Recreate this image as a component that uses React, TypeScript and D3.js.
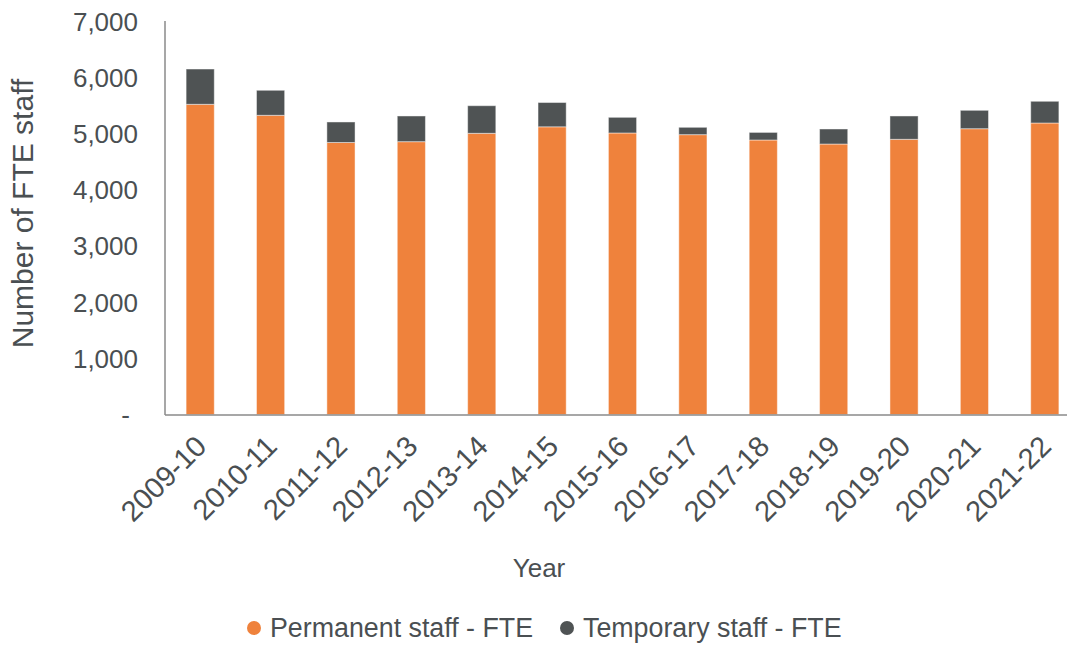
import React from "react";
import * as d3 from "d3";

const years = ["2009-10","2010-11","2011-12","2012-13","2013-14","2014-15","2015-16","2016-17","2017-18","2018-19","2019-20","2020-21","2021-22"];
const permanent = [5531, 5335, 4850, 4865, 5014, 5130, 5020, 4990, 4895, 4823, 4907, 5096, 5198];
const temporary = [629, 446, 366, 458, 492, 433, 279, 131, 135, 268, 416, 328, 387];
const yTicks = [0, 1000, 2000, 3000, 4000, 5000, 6000, 7000];
const seriesNames = ["Permanent staff - FTE", "Temporary staff - FTE"];

const W = 1067, H = 647;
const ORANGE = "#EF823C";
const DARK = "#4F5354";
const TEXT = "#4A4F52";
const AXIS = "#8A8A8A";
const FONT = "'Liberation Sans', Arial, sans-serif";

export default function App() {
  const x = d3.scaleBand<string>().domain(years).range([165, 1080]).paddingInner(0.6).paddingOuter(0.3);
  const y = d3.scaleLinear().domain([0, 7000]).range([414.6, 21.9]);
  const fmt = d3.format(",");
  const bw = x.bandwidth();
  const stack = d3.stack<number>().keys(["p", "t"]).value((i, k) => (k === "p" ? permanent[i] : temporary[i]));
  const series = stack(years.map((_, i) => i));
  const colors = [ORANGE, DARK];

  return (
    <svg width={W} height={H} style={{ position: "absolute", left: 0, top: 0, background: "#fff" }} fontFamily={FONT}>
      {series.map((s, si) => (
        <g key={si}>
          {s.map((d, i) => (
            <rect key={i} x={x(years[i])} y={y(d[1])} width={bw} height={y(d[0]) - y(d[1])}
              fill={colors[si]} stroke="#ffffff" strokeOpacity={0.45} strokeWidth={1} />
          ))}
        </g>
      ))}
      <line x1={165} x2={165} y1={21} y2={415} stroke={AXIS} strokeWidth={1.5} />
      <line x1={165} x2={W} y1={415} y2={415} stroke={AXIS} strokeWidth={1.5} />
      {yTicks.map((t) => (
        <text key={t} x={t === 0 ? 130 : 138} y={y(t)} dy="0.35em" textAnchor="end" fontSize={26} fill={TEXT}>
          {t === 0 ? "-" : fmt(t)}
        </text>
      ))}
      {years.map((yr) => {
        const cx = (x(yr) as number) + bw / 2;
        return (
          <text key={yr} transform={`translate(${cx + 8},448) rotate(-45)`} textAnchor="end" fontSize={29} fill={TEXT}>
            {yr}
          </text>
        );
      })}
      <text transform="translate(33,213.5) rotate(-90)" textAnchor="middle" fontSize={30} fill={TEXT}>Number of FTE staff</text>
      <text x={539} y={577} textAnchor="middle" fontSize={26} fill={TEXT}>Year</text>
      <circle cx={254} cy={628} r={7} fill={ORANGE} />
      <text x={270} y={628} dy="0.35em" fontSize={26.8} fill={TEXT}>{seriesNames[0]}</text>
      <circle cx={567} cy={628} r={7} fill={DARK} />
      <text x={583} y={628} dy="0.35em" fontSize={26.8} fill={TEXT}>{seriesNames[1]}</text>
    </svg>
  );
}
